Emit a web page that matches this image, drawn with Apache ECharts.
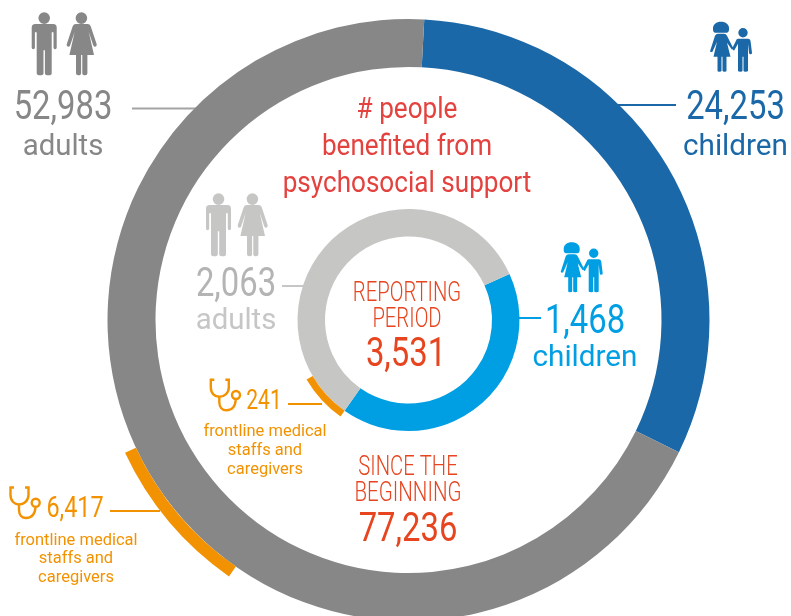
<!DOCTYPE html>
<html><head><meta charset="utf-8">
<style>html,body{margin:0;padding:0;background:#fff}#c{width:791px;height:616px}</style>
<script src="https://cdn.jsdelivr.net/npm/echarts@6/dist/echarts.min.js"></script>
</head><body><div id="c"></div>
<script>
// Values
const sinceChildren = 24253, sinceAdults = 52983, sinceMedical = 6417, sinceTotal = 77236;
const periodChildren = 1468, periodAdults = 2063, periodMedical = 241, periodTotal = 3531;
const wordTitle = ['# people', 'benefited from', 'psychosocial support'];
const wordPeriod = ['REPORTING', 'PERIOD'];
const wordSince = ['SINCE THE', 'BEGINNING'];
const wordMedical = ['frontline medical', 'staffs and', 'caregivers'];

const C = {grey:'#878787', blue:'#1a68a7', lgrey:'#c6c6c5', lblue:'#009fe3', orange:'#f39200', red:'#e3423f', title:'#e6451f', mid:'#b4b4b4'};
const FF = 'Roboto, sans-serif';
const fmt = n => n.toLocaleString('en-US');

const MAN = 'M18.3 5.8A5.8 5.8 0 1 1 6.7 5.8A5.8 5.8 0 1 1 18.3 5.8ZM3.5 11.7H21.5Q25 11.7 25 15.2V35.2Q25 37 23.4 37Q21.8 37 21.8 35.2V20H20V61Q20 63 17 63Q13.2 63 13.2 61V38H11.8V61Q11.8 63 8.5 63Q5 63 5 61V20H3.2V35.2Q3.2 37 1.6 37Q0 37 0 35.2V15.2Q0 11.7 3.5 11.7Z';
const WOMAN = 'M20.5 5.8A5.8 5.8 0 1 1 8.9 5.8A5.8 5.8 0 1 1 20.5 5.8ZM9 11.7H21Q23 11.7 24 14L30 32Q30.3 34 28.5 34.5Q27 34.5 26.5 33L22 19.5L27.3 42.7H20.7V61Q20.7 63 18.5 63Q15.6 63 15.6 61V42.7H14.4V61Q14.4 63 11.5 63Q9.3 63 9.3 61V42.7H2.7L8 19.5L3.5 33Q3 34.5 1.5 34.5Q-.3 34 0 32L6 14Q7 11.7 9 11.7Z';
const KIDS = 'M3 7.5C2.5 2.5 6.5 0 11 0C15.5 0 19.5 2.5 19 7.5C19 10.5 17.5 11 15.5 11H6.5C4.5 11 3 10.5 3 7.5ZM8 12H14Q16 12 17 14L23 26L22 28L17 21L20.5 35H16.5V49Q16.5 50 14.8 50Q12.5 50 12.5 49V35H11.5V49Q11.5 50 9.2 50Q7.5 50 7.5 49V35H3.5L7 20L2.5 30Q1 31 0 29.5L5 14Q6 12 8 12ZM37.7 11A4.7 4.7 0 1 1 28.3 11A4.7 4.7 0 1 1 37.7 11ZM28 17H38Q40 17 40.5 19L42 31Q42 32.5 40.5 32.5Q39 32.5 39 31L38 22V49Q38 50 35.5 50Q33.5 50 33.5 49V35H32.5V49Q32.5 50 30.5 50Q28 50 28 49V22L24 29L22 27L26 19Q26.5 17 28 17Z';
const SCOPE = 'M5 1.5H1.5V9C1.5 15 5.5 18.5 10 18.5C14.5 18.5 19.5 15 19.5 9V1.5H16M10 18.5V24C10 29 13 32 17 32C22 32 26 29 26.5 21M30.7 16.7A4 4 0 1 1 22.7 16.7A4 4 0 1 1 30.7 16.7Z';

[['man',MAN],['woman',WOMAN],['kids',KIDS],['scope',SCOPE]].forEach(([n,d]) => echarts.graphic.registerShape(n, echarts.graphic.extendPath(d, {})));

function txt(text, x, y, size, fill, sx, weight) {
  return {type:'text', x, y:y+2.5, scaleX:sx, silent:true, style:{text, textAlign:'center', textVerticalAlign:'middle', fill, font:`${weight||400} ${size}px ${FF}`}};
}
function icon(type, x, y, fill) { return {type, x, y, silent:true, style:{fill}}; }
function scope(x, y) { return {type:'scope', x, y, silent:true, style:{fill:'none', stroke:C.orange, lineWidth:2.4}}; }
function lead(x1, x2, y, stroke) { return {type:'line', silent:true, shape:{x1, y1:y, x2, y2:y}, style:{stroke, lineWidth:2}}; }

const ring = (radius, startAngle, data) => ({type:'pie', center:[408.5,320], radius, startAngle, silent:true, label:{show:false}, labelLine:{show:false}, emphasis:{disabled:true}, itemStyle:{borderWidth:0}, data});
const part = (value, color) => ({value, itemStyle:{color}});
const none = v => ({value:v, itemStyle:{color:'rgba(0,0,0,0)'}});

const chart = echarts.init(document.getElementById('c'));
chart.setOption({
  animation:false,
  backgroundColor:'#fff',
  series:[
    ring([253,301], 87, [part(sinceChildren,C.blue), part(sinceAdults,C.grey)]),
    ring([301,313], 235, [part(sinceMedical,C.orange), none(sinceTotal-sinceMedical)]),
    ring([83.5,111], 24.5, [part(periodChildren,C.lblue), part(periodAdults,C.lgrey)]),
    ring([111,118], 24.5, [none(periodChildren), part(periodMedical,C.orange), none(periodAdults-periodMedical)])
  ],
  graphic:{elements:[
    icon('man',31.7,12.3,C.grey), icon('woman',66.7,12.3,C.grey),
    txt(fmt(sinceAdults),63,106,41,C.grey,.8), txt('adults',63,145,30,C.grey,.98),
    lead(132,198,108.5,'#a3a3a3'),
    icon('kids',710,21.7,C.blue),
    txt(fmt(sinceChildren),735.5,106,41,C.blue,.8), txt('children',735.5,145,30,C.blue,.99),
    lead(618,676,105,C.blue),
    txt(wordTitle[0],407,108,30,C.red,.87), txt(wordTitle[1],407,145,30,C.red,.87), txt(wordTitle[2],407,182,30,C.red,.87),
    icon('man',206,193.3,C.lgrey), icon('woman',237.7,193.3,C.lgrey),
    txt(fmt(periodAdults),236,283,41,C.mid,.8), txt('adults',236,319,30,C.lgrey,.98),
    lead(282,305,286,C.lgrey),
    icon('kids',560.7,242.3,C.lblue),
    txt(fmt(periodChildren),585,320,41,C.lblue,.8), txt('children',585,356,30,C.lblue,.99),
    lead(519,541,318,C.lblue),
    txt(wordPeriod[0],407,292,27,C.title,.75,300), txt(wordPeriod[1],407,318,27,C.title,.75,300),
    txt(fmt(periodTotal),406,353,40,C.title,.82,400),
    txt(wordSince[0],408,466,27,C.title,.75,300), txt(wordSince[1],408,492,27,C.title,.76,300),
    txt(fmt(sinceTotal),408,528,40,C.title,.82,400),
    scope(209.3,378.3), txt(fmt(periodMedical),264,400,27,C.orange,.78),
    lead(288,322,404,C.orange),
    txt(wordMedical[0],265,429,17,C.orange,.97), txt(wordMedical[1],265,448,17,C.orange,.97), txt(wordMedical[2],265,467,17,C.orange,.97),
    scope(9,486), txt(fmt(sinceMedical),75,507,30,C.orange,.78),
    lead(110,160,511,C.orange),
    txt(wordMedical[0],76,538,17,C.orange,.97), txt(wordMedical[1],76,556,17,C.orange,.97), txt(wordMedical[2],76,575,17,C.orange,.97)
  ]}
});
</script></body></html>
